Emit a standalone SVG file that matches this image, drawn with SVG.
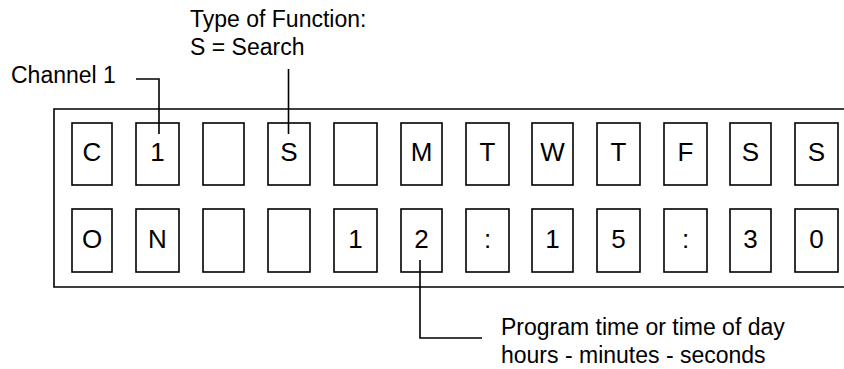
<svg xmlns="http://www.w3.org/2000/svg" width="844" height="369" viewBox="0 0 844 369">
<style>
.box{fill:#fff;stroke:#000;stroke-width:1.6}
.ch{font-family:"Liberation Sans",Arial,sans-serif;font-size:26px;fill:#000;text-anchor:middle}
.lbl{font-family:"Liberation Sans",Arial,sans-serif;font-size:23px;fill:#000}
.lead{fill:none;stroke:#000;stroke-width:1.6}
</style>
<rect width="844" height="369" fill="#fff"/>
<g id="display">
<path d="M 846 109 H 54 V 287 H 846" fill="none" stroke="#000" stroke-width="1.6"/>
</g>
<g id="row1">
<g id="c1"><rect class="box" x="72" y="123" width="40" height="62"/><text class="ch" x="92" y="161">C</text></g>
<g id="c2"><rect class="box" x="136" y="123" width="43" height="62"/><text class="ch" x="157.5" y="161">1</text></g>
<g id="c3"><rect class="box" x="203" y="123" width="41" height="62"/></g>
<g id="c4"><rect class="box" x="268" y="123" width="42" height="62"/><text class="ch" x="289" y="161">S</text></g>
<g id="c5"><rect class="box" x="334" y="123" width="43" height="62"/></g>
<g id="c6"><rect class="box" x="401" y="123" width="41" height="62"/><text class="ch" x="421.5" y="161">M</text></g>
<g id="c7"><rect class="box" x="466" y="123" width="43" height="62"/><text class="ch" x="487.5" y="161">T</text></g>
<g id="c8"><rect class="box" x="532" y="123" width="41" height="62"/><text class="ch" x="552.5" y="161">W</text></g>
<g id="c9"><rect class="box" x="597" y="123" width="43" height="62"/><text class="ch" x="618.5" y="161">T</text></g>
<g id="c10"><rect class="box" x="664" y="123" width="43" height="62"/><text class="ch" x="685.5" y="161">F</text></g>
<g id="c11"><rect class="box" x="730" y="123" width="41" height="62"/><text class="ch" x="750.5" y="161">S</text></g>
<g id="c12"><rect class="box" x="795" y="123" width="43" height="62"/><text class="ch" x="816.5" y="161">S</text></g>
</g>
<g id="row2">
<g id="d1"><rect class="box" x="72" y="209" width="40" height="63"/><text class="ch" x="92" y="248">O</text></g>
<g id="d2"><rect class="box" x="136" y="209" width="43" height="63"/><text class="ch" x="157.5" y="248">N</text></g>
<g id="d3"><rect class="box" x="203" y="209" width="41" height="63"/></g>
<g id="d4"><rect class="box" x="268" y="209" width="42" height="63"/></g>
<g id="d5"><rect class="box" x="334" y="209" width="43" height="63"/><text class="ch" x="355.5" y="248">1</text></g>
<g id="d6"><rect class="box" x="401" y="209" width="41" height="63"/><text class="ch" x="421.5" y="248">2</text></g>
<g id="d7"><rect class="box" x="466" y="209" width="43" height="63"/><text class="ch" x="487.5" y="248">:</text></g>
<g id="d8"><rect class="box" x="532" y="209" width="41" height="63"/><text class="ch" x="552.5" y="248">1</text></g>
<g id="d9"><rect class="box" x="597" y="209" width="43" height="63"/><text class="ch" x="618.5" y="248">5</text></g>
<g id="d10"><rect class="box" x="664" y="209" width="43" height="63"/><text class="ch" x="685.5" y="248">:</text></g>
<g id="d11"><rect class="box" x="730" y="209" width="41" height="63"/><text class="ch" x="750.5" y="248">3</text></g>
<g id="d12"><rect class="box" x="795" y="209" width="43" height="63"/><text class="ch" x="816.5" y="248">0</text></g>
</g>
<g id="labels">
<text class="lbl" x="11" y="82.5">Channel 1</text>
<text class="lbl" x="190" y="26.5">Type of Function:</text>
<text class="lbl" x="190" y="54.5">S = Search</text>
<text class="lbl" x="501" y="335">Program time or time of day</text>
<text class="lbl" x="501" y="362.5">hours - minutes - seconds</text>
</g>
<g id="connectors">
<path class="lead" d="M 136 79 H 159 V 134"/>
<path class="lead" d="M 288.5 69 V 134"/>
<path class="lead" d="M 420 260 V 338 H 482"/>
</g>
</svg>
